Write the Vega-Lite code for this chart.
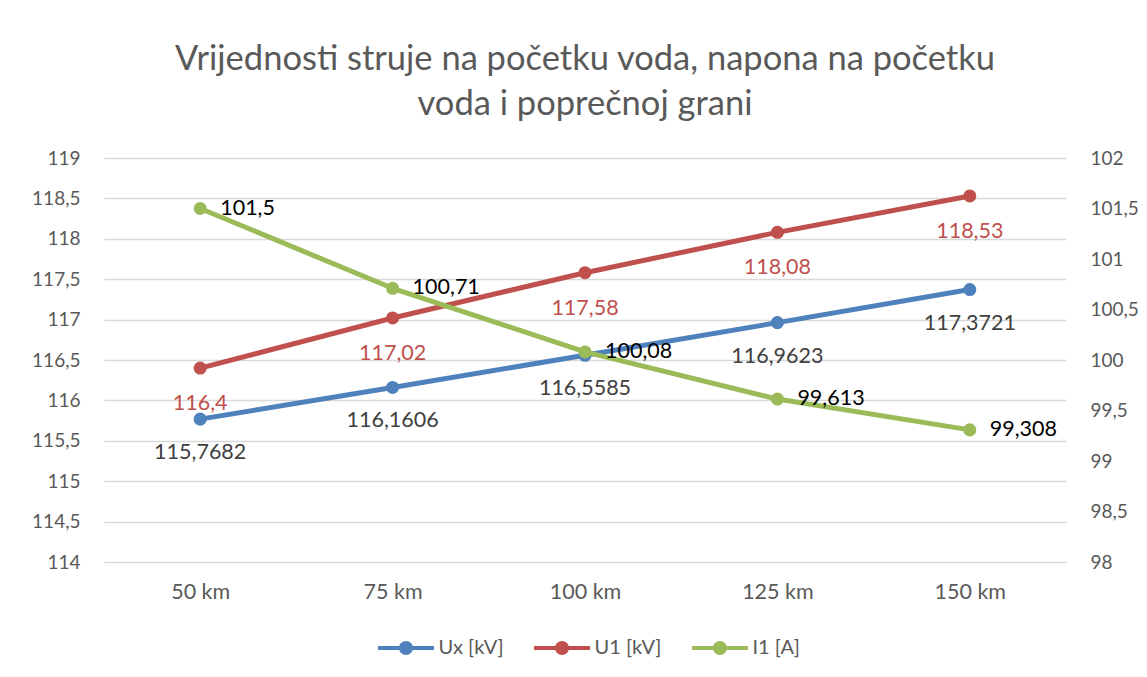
{
  "$schema": "https://vega.github.io/schema/vega-lite/v6.json",
  "width": 962,
  "height": 404,
  "autosize": {"type": "none"},
  "padding": {"left": 104, "top": 158, "right": 81, "bottom": 115},
  "background": "white",
  "config": {
    "font": "Lato",
    "view": {"stroke": null},
    "locale": {"number": {"decimal": ",", "thousands": ".", "grouping": [3], "currency": ["", " €"]}},
    "axis": {"labelFont": "Lato", "labelFontSize": 19, "labelColor": "#595959", "ticks": false, "domain": false, "gridColor": "#D9D9D9", "gridWidth": 1.5}
  },
  "title": {
    "text": ["Vrijednosti struje na početku voda, napona na početku", "voda i poprečnoj grani"],
    "fontSize": 34.5,
    "fontWeight": "normal",
    "color": "#595959",
    "font": "Lato",
    "lineHeight": 45,
    "anchor": "middle",
    "offset": 27
  },
  "data": {
    "values": [
      {"km": "50 km", "series": "Ux [kV]", "value": 115.7682},
      {"km": "75 km", "series": "Ux [kV]", "value": 116.1606},
      {"km": "100 km", "series": "Ux [kV]", "value": 116.5585},
      {"km": "125 km", "series": "Ux [kV]", "value": 116.9623},
      {"km": "150 km", "series": "Ux [kV]", "value": 117.3721},
      {"km": "50 km", "series": "U1 [kV]", "value": 116.4},
      {"km": "75 km", "series": "U1 [kV]", "value": 117.02},
      {"km": "100 km", "series": "U1 [kV]", "value": 117.58},
      {"km": "125 km", "series": "U1 [kV]", "value": 118.08},
      {"km": "150 km", "series": "U1 [kV]", "value": 118.53},
      {"km": "50 km", "series": "I1 [A]", "value": 101.5},
      {"km": "75 km", "series": "I1 [A]", "value": 100.71},
      {"km": "100 km", "series": "I1 [A]", "value": 100.08},
      {"km": "125 km", "series": "I1 [A]", "value": 99.613},
      {"km": "150 km", "series": "I1 [A]", "value": 99.308}
    ]
  },
  "encoding": {
    "x": {
      "field": "km", "type": "ordinal",
      "sort": ["50 km", "75 km", "100 km", "125 km", "150 km"],
      "scale": {"type": "point", "padding": 0.5},
      "axis": {"title": null, "labelAngle": 0, "labelPadding": 19, "labelFontSize": 21.5, "grid": false}
    },
    "color": {
      "field": "series", "type": "nominal",
      "scale": {"domain": ["Ux [kV]", "U1 [kV]", "I1 [A]"], "range": ["#4F81BD", "#C0504D", "#9BBB59"]},
      "legend": {
        "title": null,
        "orient": "none",
        "legendX": 292,
        "legendY": 480,
        "direction": "horizontal",
        "labelFont": "Lato",
        "labelFontSize": 20,
        "labelColor": "#595959",
        "symbolType": "M-4,-0.3H4V0.3H-4Z M-1,0A1,1 0 1,1 1,0A1,1 0 1,1 -1,0Z",
        "symbolSize": 196,
        "symbolStrokeWidth": 0,
        "labelOffset": 22.5,
        "columnPadding": 30,
        "encode": {"symbols": {"update": {"fill": {"scale": "color", "field": "value"}, "strokeWidth": {"value": 0}}}}
      }
    }
  },
  "layer": [
    {
      "transform": [{"filter": "datum.series !== 'I1 [A]'"}],
      "encoding": {
        "y": {
          "field": "value", "type": "quantitative",
          "scale": {"domain": [114, 119], "zero": false, "nice": false},
          "axis": {"title": null, "orient": "left", "values": [114, 114.5, 115, 115.5, 116, 116.5, 117, 117.5, 118, 118.5, 119], "format": "~g", "labelPadding": 24, "grid": true}
        }
      },
      "layer": [
        {"mark": {"type": "line", "strokeWidth": 5, "strokeCap": "round", "strokeJoin": "round"}},
        {"mark": {"type": "point", "filled": true, "opacity": 1, "size": 170}},
        {
          "transform": [{"filter": "datum.series === 'Ux [kV]'"}],
          "mark": {"type": "text", "font": "Lato", "fontSize": 21.5, "dy": 34, "align": "center", "baseline": "middle"},
          "encoding": {"text": {"field": "value", "type": "quantitative", "format": ".10~g"}, "color": {"value": "#404040"}}
        },
        {
          "transform": [{"filter": "datum.series === 'U1 [kV]'"}],
          "mark": {"type": "text", "font": "Lato", "fontSize": 21.5, "dy": 36, "align": "center", "baseline": "middle"},
          "encoding": {"text": {"field": "value", "type": "quantitative", "format": ".10~g"}, "color": {"value": "#C0504D"}}
        }
      ]
    },
    {
      "transform": [{"filter": "datum.series === 'I1 [A]'"}],
      "encoding": {
        "y": {
          "field": "value", "type": "quantitative",
          "scale": {"domain": [98, 102], "zero": false, "nice": false},
          "axis": {"title": null, "orient": "right", "values": [98, 98.5, 99, 99.5, 100, 100.5, 101, 101.5, 102], "format": "~g", "labelPadding": 24, "grid": false}
        }
      },
      "layer": [
        {"mark": {"type": "line", "strokeWidth": 5, "strokeCap": "round", "strokeJoin": "round"}},
        {"mark": {"type": "point", "filled": true, "opacity": 1, "size": 170}},
        {
          "mark": {"type": "text", "font": "Lato", "fontSize": 21.5, "dx": 20, "align": "left", "baseline": "middle"},
          "encoding": {"text": {"field": "value", "type": "quantitative", "format": ".10~g"}, "color": {"value": "#000000"}}
        }
      ]
    }
  ],
  "resolve": {"scale": {"y": "independent"}}
}
